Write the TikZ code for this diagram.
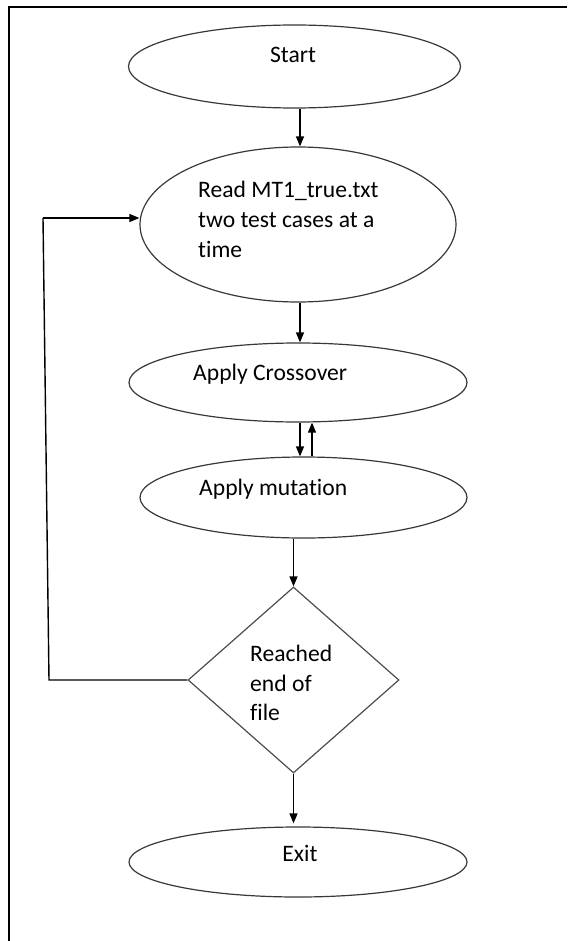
\documentclass[tikz,border=0pt]{standalone}
\usepackage{fontspec}
\setmainfont{Carlito}[Ligatures={NoCommon},RawFeature={-calt;-clig}]
\usetikzlibrary{shapes.geometric,arrows.meta}
\newcommand{\nolig}{\kern0pt}
\begin{document}
\begin{tikzpicture}[x=1pt,y=-1pt,
  shapeline/.style={draw=black!78, line width=1.2pt},
  oval/.style={shapeline, ellipse, inner sep=0pt},
  arr/.style={draw=black, line width=1.4pt, -{Triangle[length=10pt,width=8pt]}},
  plainline/.style={draw=black, line width=1.4pt},
  lbl/.style={inner sep=0pt, font=\fontsize{23.6pt}{29.5pt}\selectfont},
]
\useasboundingbox (0,0) rectangle (569,941);
% frame
\draw[line width=2.2pt] (9,941) -- (9,7) -- (567,7);

% shapes
\node[oval, minimum width=332pt, minimum height=83pt] (start) at (294.5,66.5) {};
\node[oval, minimum width=316pt, minimum height=155pt] (read) at (298,224.5) {};
\node[oval, minimum width=338pt, minimum height=79pt] (cross) at (298,382.5) {};
\node[oval, minimum width=327pt, minimum height=81pt] (mut) at (303.5,497.5) {};
\node[shapeline, draw=black!70, diamond, minimum width=211pt, minimum height=186pt, inner sep=0pt] (dec) at (293.5,680) {};
\node[oval, minimum width=338pt, minimum height=70pt] (exit) at (298,862) {};

% texts
\node[lbl, anchor=base] (tstart) at (293,63) {Start};
\node[lbl, anchor=base west] (tread1) at (198,198) {Read MT1\_true.txt};
\node[lbl, anchor=base west] (tread2) at (198,228) {two test cases at a};
\node[lbl, anchor=base west] (tread3) at (198,257) {t\nolig ime};
\node[lbl, anchor=base west] (tcross) at (193,380) {Apply Crossover};
\node[lbl, anchor=base west] (tmut) at (199,495) {Apply mutat\nolig ion};
\node[lbl, anchor=base west] (tdec1) at (250,661) {Reached};
\node[lbl, anchor=base west] (tdec2) at (250,691) {end of};
\node[lbl, anchor=base west] (tdec3) at (250,720) {file};
\node[lbl, anchor=base] (texit) at (300,861) {Exit};

% helper coordinates
\coordinate (xa) at (300,0);
\coordinate (xb) at (312,0);
\coordinate (lt) at (43,218);
\coordinate (lb) at (49,680);

% connectors
\draw[arr] (start.south -| xa) -- (read.north -| xa);
\draw[arr] (read.south -| xa) -- (cross.north -| xa);
\draw[arr] (cross.south -| xa) -- (mut.north -| xa);
\draw[arr] (mut.north -| xb) -- (cross.south -| xb);
\draw[arr] (mut.south -| dec.north) -- (dec.north);
\draw[arr] (dec.south) -- ([yshift=3pt]exit.north -| dec.south);
\draw[plainline] (dec.west) -- (lb) -- (lt);
\draw[arr] (lt) -- (lt -| read.west);
\end{tikzpicture}
\end{document}
